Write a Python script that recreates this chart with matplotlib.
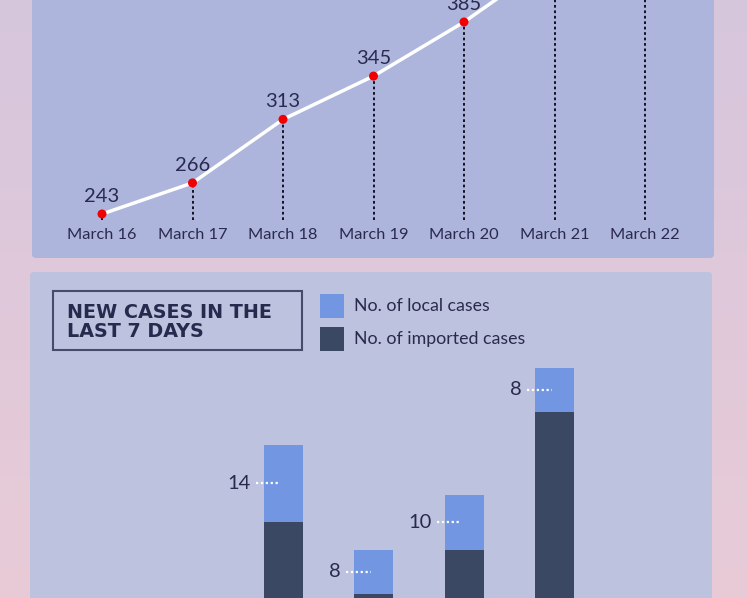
import numpy as np
import matplotlib.pyplot as plt
from matplotlib.patches import FancyBboxPatch, Rectangle

plt.rcParams['font.family'] = ['Lato', 'DejaVu Sans']

# data
days = ['March 16', 'March 17', 'March 18', 'March 19', 'March 20', 'March 21', 'March 22']
total_cases = [243, 266, 313, 345, 385, 432, 455]
shown_labels = 5  # only the first five labels are in view

bar_days = [2, 3, 4, 5]          # index into days
local_cases = [14, 8, 10, 8]
imported_cases = [36, 23, 31, 56]

W, H = 747, 598
fig = plt.figure(figsize=(W / 100, H / 100), dpi=100)

def fx(px):
    return px / W

def fy(py):
    return 1 - py / H

# background gradient
bg = fig.add_axes([0, 0, 1, 1])
bg.set_axis_off()
top = np.array([214, 198, 221]) / 255
bot = np.array([233, 203, 215]) / 255
t = np.linspace(0, 1, 256)[:, None]
grad = top * (1 - t) + bot * t
bg.imshow(grad[:, None, :].repeat(2, axis=1), aspect='auto', extent=[0, 1, 0, 1])
bg.set_xlim(0, 1)
bg.set_ylim(0, 1)

# panels
bg.add_patch(FancyBboxPatch((fx(32), fy(258)), fx(714) - fx(32), fy(-20) - fy(258),
                            boxstyle='round,pad=0,rounding_size=0.006',
                            fc='#adb5dc', ec='none', transform=bg.transAxes))
bg.add_patch(FancyBboxPatch((fx(30), fy(640)), fx(712) - fx(30), fy(272) - fy(640),
                            boxstyle='round,pad=0,rounding_size=0.006',
                            fc='#bdc2de', ec='none', transform=bg.transAxes))

# line chart
step = 90.5
x0 = 102
ax = fig.add_axes([fx(32), fy(258), fx(714) - fx(32), fy(0) - fy(258)])
ax.set_xlim((32 - x0) / step, (714 - x0) / step)
ppu = 1.352
base_px = 214
def yval(py):
    return 243 + (base_px - py) / ppu
ax.set_ylim(yval(258), yval(0))
ax.set_axis_off()
xs = np.arange(len(days))
ax.vlines(xs, yval(220), total_cases, colors='#111122', linestyles=(0, (1.4, 1.4)), lw=1.4)
ax.plot(xs, total_cases, color='white', lw=2.5, zorder=3)
ax.scatter(xs, total_cases, s=42, color='#f00000', zorder=4, edgecolors='none')
for i in range(shown_labels):
    ax.annotate(str(total_cases[i]), (xs[i], total_cases[i]), xytext=(0, 6.5),
                textcoords='offset points', ha='center', va='bottom',
                fontsize=14.5, color='#2a2a4e')
for i, d in enumerate(days):
    ax.text(xs[i], yval(235), d, ha='center', va='center', fontsize=11.8, color='#2a2a4e')

# bar chart
bx = fig.add_axes([fx(30), 0, fx(712) - fx(30), fy(272)])
bx.set_xlim((30 - x0) / step, (712 - x0) / step)
bppu = 5.5
bbase = 720
bx.set_ylim((bbase - 598) / bppu, (bbase - 272) / bppu)
bx.set_axis_off()
bw = 39 / step
bx.bar(bar_days, imported_cases, width=bw, color='#3b4863')
bx.bar(bar_days, local_cases, width=bw, bottom=imported_cases, color='#7296e2')
for d, lo, im in zip(bar_days, local_cases, imported_cases):
    ym = im + lo / 2
    bx.plot([d - 0.3, d - 0.03], [ym, ym], color='white', lw=1.6, ls=(0, (1, 1.2)))
    bx.text(d - 0.36, ym, str(lo), ha='right', va='center', fontsize=14.5, color='#2a2a4e')

# title box and legend
bg.add_patch(Rectangle((fx(53), fy(350)), fx(302) - fx(53), fy(291) - fy(350),
                       fc='none', ec='#454b6b', lw=1.5, transform=bg.transAxes))
bg.text(fx(67), fy(322), 'NEW CASES IN THE\nLAST 7 DAYS', ha='left', va='center',
        fontsize=13.8, fontweight='bold', family=['DejaVu Sans'],
        color='#262a4e', linespacing=1.0, transform=bg.transAxes)
bg.add_patch(Rectangle((fx(320), fy(318)), fx(24), 24 / H, fc='#7296e2', ec='none',
                       transform=bg.transAxes))
bg.add_patch(Rectangle((fx(320), fy(351)), fx(24), 24 / H, fc='#3b4863', ec='none',
                       transform=bg.transAxes))
bg.text(fx(354), fy(306), 'No. of local cases', ha='left', va='center', fontsize=12.8,
        color='#2a2a4e', transform=bg.transAxes)
bg.text(fx(354), fy(339), 'No. of imported cases', ha='left', va='center', fontsize=12.8,
        color='#2a2a4e', transform=bg.transAxes)

fig.savefig('out.png', dpi=100)
